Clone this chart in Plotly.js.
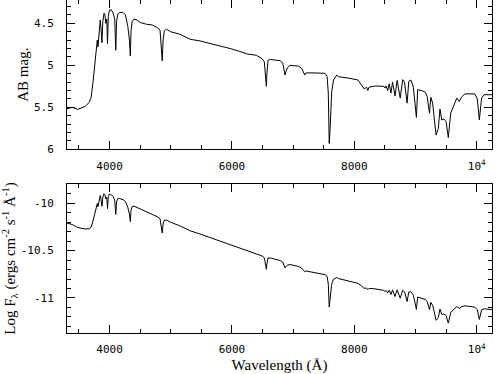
<!DOCTYPE html>
<html>
<head>
<meta charset="utf-8">
<script src="https://cdn.plot.ly/plotly-3.0.1.min.js"></script>
<style>html,body{margin:0;padding:0;background:#fff;}#chart{width:496px;height:374px;}</style>
</head>
<body>
<div id="chart"></div>
<script>
// Wavelength samples (Angstrom)
const wavelength = [3300,3390,3480,3600,3670,3700,3730,3760,3790,3800,3811,3830,3848,3860,3876,3890,3910,3925,3940,3955,3967,3980,4000,4030,4060,4085,4102,4115,4135,4160,4220,4260,4300,4325,4340,4352,4370,4400,4450,4500,4600,4700,4780,4825,4850,4861,4875,4895,4930,5000,5150,5320,5480,5650,5810,5970,6130,6250,6400,6490,6530,6555,6563,6572,6590,6630,6790,6830,6850,6868,6885,6905,6950,7090,7140,7175,7190,7210,7280,7330,7520,7555,7575,7590,7605,7630,7660,7690,7714,7740,7820,7930,8060,8120,8160,8180,8200,8220,8240,8340,8420,8480,8500,8520,8545,8570,8598,8625,8665,8700,8750,8790,8820,8863,8890,8925,8965,9015,9035,9100,9160,9190,9229,9250,9280,9314,9336,9373,9400,9428,9465,9500,9536,9575,9620,9675,9715,9755,9810,9970,10010,10043,10080,10120,10300];

// Top panel: AB magnitude
const abMag = [5.52,5.50,5.525,5.49,5.44,5.38,5.20,5.00,4.82,4.70,4.78,4.55,4.46,4.55,4.73,4.48,4.38,4.40,4.50,4.45,4.74,4.42,4.34,4.34,4.38,4.45,4.82,4.48,4.39,4.37,4.37,4.40,4.54,4.70,4.89,4.58,4.48,4.45,4.46,4.49,4.51,4.52,4.55,4.58,4.80,4.945,4.70,4.59,4.57,4.60,4.63,4.69,4.71,4.74,4.77,4.80,4.835,4.865,4.88,4.92,4.96,5.15,5.25,5.10,4.94,4.93,4.945,4.97,5.05,5.115,5.07,5.03,5.00,5.01,5.035,5.10,5.115,5.09,5.095,5.09,5.095,5.13,5.33,5.93,5.75,5.32,5.175,5.135,5.115,5.135,5.14,5.155,5.175,5.23,5.28,5.27,5.26,5.30,5.26,5.246,5.246,5.25,5.27,5.245,5.30,5.22,5.33,5.20,5.365,5.18,5.39,5.17,5.20,5.45,5.19,5.175,5.26,5.62,5.29,5.30,5.32,5.37,5.57,5.38,5.45,5.67,5.83,5.75,5.52,5.65,5.64,5.67,5.86,5.57,5.49,5.39,5.43,5.375,5.34,5.34,5.40,5.65,5.39,5.35,5.35];

// Bottom panel: log F_lambda
const logFlux = [-10.208,-10.224,-10.256,-10.272,-10.269,-10.252,-10.187,-10.114,-10.048,-10.003,-10.037,-9.950,-9.918,-9.956,-10.032,-9.935,-9.900,-9.911,-9.954,-9.937,-10.056,-9.931,-9.903,-9.910,-9.932,-9.966,-10.117,-9.984,-9.952,-9.949,-9.962,-9.982,-10.046,-10.115,-10.194,-10.073,-10.036,-10.030,-10.044,-10.066,-10.093,-10.115,-10.142,-10.162,-10.255,-10.315,-10.219,-10.179,-10.177,-10.201,-10.239,-10.291,-10.325,-10.363,-10.400,-10.435,-10.472,-10.501,-10.528,-10.556,-10.577,-10.656,-10.697,-10.639,-10.577,-10.578,-10.605,-10.620,-10.655,-10.683,-10.667,-10.654,-10.647,-10.668,-10.685,-10.715,-10.723,-10.715,-10.725,-10.729,-10.754,-10.772,-10.854,-11.096,-11.025,-10.856,-10.802,-10.789,-10.784,-10.795,-10.806,-10.824,-10.846,-10.874,-10.899,-10.897,-10.895,-10.913,-10.899,-10.904,-10.912,-10.920,-10.930,-10.922,-10.947,-10.917,-10.964,-10.915,-10.985,-10.914,-11.003,-10.919,-10.934,-11.038,-10.937,-10.934,-10.972,-11.121,-10.991,-11.001,-11.015,-11.038,-11.122,-11.047,-11.078,-11.169,-11.236,-11.207,-11.117,-11.172,-11.171,-11.187,-11.266,-11.153,-11.126,-11.091,-11.110,-11.092,-11.083,-11.097,-11.124,-11.227,-11.126,-11.114,-11.129];

// Tick labels
const xTickVals = [4000, 6000, 8000, 10000];
const xTickText = ['4000', '6000', '8000', '10<sup>4</sup>'];
const magTickVals = [4.5, 5, 5.5, 6];
const magTickText = ['4.5', '5', '5.5', '6'];
const fluxTickVals = [-11, -10.5, -10];
const fluxTickText = ['-11', '-10.5', '-10'];

const tickFont = {family: 'DejaVu Sans Mono', size: 11, color: '#000'};
const titleFont = {family: 'Liberation Serif', size: 15, color: '#000'};

function xAxis(anchor, showTitle) {
  const ax = {
    anchor: anchor, domain: [0, 1], range: [3305, 10250],
    showline: true, linecolor: '#000', linewidth: 1, mirror: 'ticks',
    ticks: 'inside', ticklen: 8, tickwidth: 1, tickcolor: '#000',
    tickmode: 'array', tickvals: xTickVals, ticktext: xTickText,
    ticklabelstandoff: 6,
    minor: {tickmode: 'linear', tick0: 0, dtick: 500, ticks: 'inside', ticklen: 4, tickcolor: '#000', tickwidth: 1, showgrid: false},
    showgrid: false, zeroline: false, tickfont: tickFont
  };
  if (showTitle) ax.title = {text: 'Wavelength (Å)', font: titleFont, standoff: 5};
  return ax;
}
function yAxis(domain, range, vals, text, title, standoff) {
  return {
    domain: domain, range: range,
    showline: true, linecolor: '#000', linewidth: 1, mirror: 'ticks',
    ticks: 'inside', ticklen: 8, tickwidth: 1, tickcolor: '#000',
    tickmode: 'array', tickvals: vals, ticktext: text,
    ticklabelstandoff: 10,
    minor: {tickmode: 'linear', tick0: 0, dtick: 0.1, ticks: 'inside', ticklen: 4, tickcolor: '#000', tickwidth: 1, showgrid: false},
    showgrid: false, zeroline: false, tickfont: tickFont,
    title: {text: title, font: titleFont, standoff: standoff}
  };
}

const data = [
  {x: wavelength, y: abMag, xaxis: 'x2', yaxis: 'y2', type: 'scatter', mode: 'lines',
   line: {color: '#000', width: 1}, hoverinfo: 'skip'},
  {x: wavelength, y: logFlux, xaxis: 'x', yaxis: 'y', type: 'scatter', mode: 'lines',
   line: {color: '#000', width: 1}, hoverinfo: 'skip'}
];

const layout = {
  width: 496, height: 374,
  margin: {l: 67, r: 4, t: 0, b: 41},
  paper_bgcolor: '#fff', plot_bgcolor: '#fff',
  showlegend: false,
  xaxis: xAxis('y', true),
  xaxis2: xAxis('y2', false),
  yaxis: yAxis([0, 0.4474], [-11.37, -9.797], fluxTickVals, fluxTickText,
               'Log F<sub>λ</sub> (ergs cm<sup>-2</sup> s<sup>-1</sup> Å<sup>-1</sup>)', 6),
  yaxis2: yAxis([0.5516, 1], [6, 4.222], magTickVals, magTickText, 'AB mag.', 1)
};

Plotly.newPlot('chart', data, layout, {staticPlot: true, displayModeBar: false});
</script>
</body>
</html>
